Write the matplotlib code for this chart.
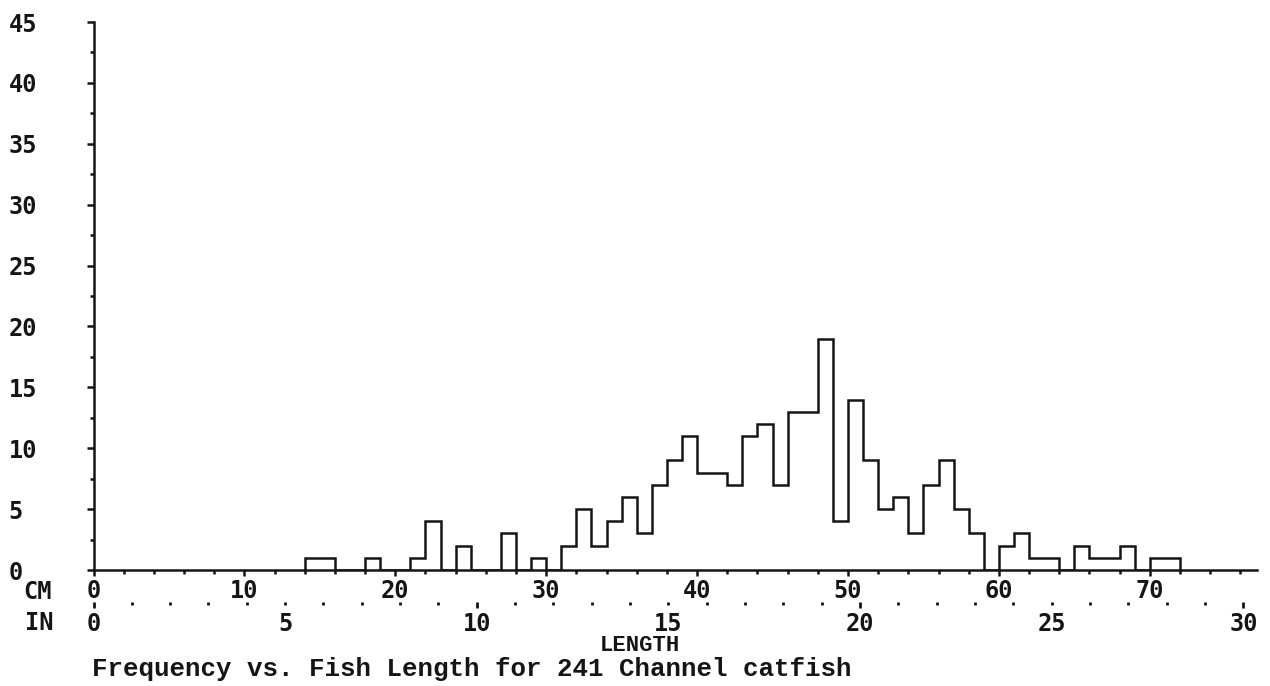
import numpy as np
import matplotlib
matplotlib.use('Agg')
import matplotlib.pyplot as plt
from matplotlib.ticker import MultipleLocator

# Length classes (left edge, cm) and number of fish in each 1 cm class
length_cm = [14, 15, 18, 21, 22, 24, 27, 29,
             31, 32, 33, 34, 35, 36, 37, 38, 39,
             40, 41, 42, 43, 44, 45, 46, 47, 48,
             49, 50, 51, 52, 53, 54, 55, 56, 57, 58,
             60, 61, 62, 63, 65, 66, 67, 68, 70, 71]
counts = [1, 1, 1, 1, 4, 2, 3, 1,
          2, 5, 2, 4, 6, 3, 7, 9, 11,
          8, 8, 7, 11, 12, 7, 13, 13, 19,
          4, 14, 9, 5, 6, 3, 7, 9, 5, 3,
          2, 3, 1, 1, 2, 1, 1, 2, 1, 1]

cm_ticks = [0, 10, 20, 30, 40, 50, 60, 70]
in_ticks = [0, 5, 10, 15, 20, 25, 30]
y_ticks = [0, 5, 10, 15, 20, 25, 30, 35, 40, 45]
title = 'Frequency vs. Fish Length for 241 Channel catfish'

plt.rcParams['font.family'] = ['DejaVu Sans Mono']
plt.rcParams['font.weight'] = 'bold'
ink = '#151515'
W, H = 1270, 686

fig = plt.figure(figsize=(W / 100, H / 100), dpi=100)
ax = fig.add_axes([93.5 / W, (H - 570) / H, (1257 - 93.5) / W, (570 - 22) / H])

# 1 cm bins from first to last class
edges = np.arange(min(length_cm), max(length_cm) + 2)
full = np.zeros(len(edges) - 1)
full[np.array(length_cm) - min(length_cm)] = counts
ax.stairs(full, edges, baseline=0, color=ink, linewidth=1.8)

ax.set_xlim(0, 77.1)
ax.set_ylim(0, 45)
for s in ['top', 'right']:
    ax.spines[s].set_visible(False)
for s in ['left', 'bottom']:
    ax.spines[s].set_linewidth(1.8)
    ax.spines[s].set_color(ink)

# y axis: labels left-aligned at the figure edge
ax.set_yticks(y_ticks)
ax.yaxis.set_minor_locator(MultipleLocator(2.5))
ax.tick_params(axis='y', which='major', length=5, width=1.8, color=ink,
               labelsize=17, labelcolor=ink, pad=56)
ax.tick_params(axis='y', which='minor', length=3, width=1.8, color=ink)
for lab in ax.get_yticklabels():
    lab.set_horizontalalignment('left')

# CM axis
ax.set_xticks(cm_ticks)
ax.xaxis.set_minor_locator(MultipleLocator(2))
ax.tick_params(axis='x', which='major', length=4.5, width=1.8, color=ink,
               labelsize=17, labelcolor=ink, pad=2)
ax.tick_params(axis='x', which='minor', length=3, width=1.8, color=ink)

# IN axis below, dotted marks every inch
sec = ax.secondary_xaxis(-(602 - 570) / 548,
                         functions=(lambda x: x / 2.54, lambda x: x * 2.54))
sec.spines['bottom'].set_visible(False)
sec.set_xticks(in_ticks)
sec.xaxis.set_minor_locator(MultipleLocator(1))
sec.tick_params(axis='x', which='major', length=2, width=2, color=ink,
                labelsize=17, labelcolor=ink, pad=5)
sec.tick_params(axis='x', which='minor', length=2, width=2, color=ink)
for val, tick in zip(in_ticks, sec.xaxis.get_major_ticks()):
    if val % 10 == 0:
        tick.tick1line.set_markersize(4.5)

fig.text(23 / W, 1 - 580 / H, 'CM', fontsize=17, color=ink, va='top')
fig.text(25 / W, 1 - 611 / H, 'IN', fontsize=17, color=ink, va='top')
fig.text(640 / W, 1 - 635 / H, 'LENGTH', fontsize=16, color=ink,
         ha='center', va='top', family='Liberation Mono')
fig.text(92 / W, 1 - 657 / H, title, fontsize=18.6, color=ink, va='top',
         family='Liberation Mono')

fig.savefig('out.png', dpi=100)
